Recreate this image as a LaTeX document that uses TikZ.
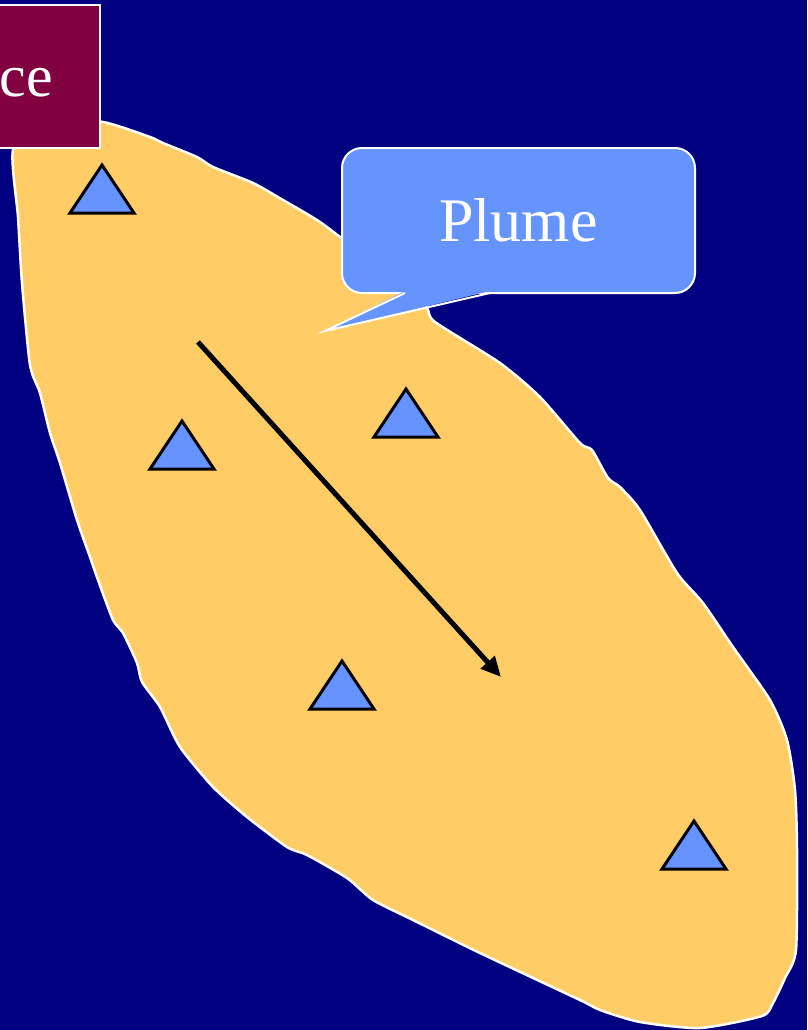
\documentclass[tikz,border=0pt]{standalone}
\usepackage{fontspec}
\setmainfont{Liberation Serif}
\usetikzlibrary{arrows.meta}
\definecolor{bgnavy}{RGB}{0,0,128}
\definecolor{plumefill}{RGB}{255,204,102}
\definecolor{maroonbox}{RGB}{128,0,64}
\definecolor{calloutblue}{RGB}{102,148,255}
\tikzset{
  plumeshape/.style={fill=plumefill, draw=white, line width=2.5pt, line join=round},
  sensor/.style={fill=calloutblue, draw=black, line width=3pt, line join=miter},
  pics/tri/.style={code={\path[sensor] (-32,0) -- (0,-48) -- (32,0) -- cycle;}},
  labelbox/.style={fill=maroonbox, draw=white, line width=2pt, text=white,
    font=\fontsize{60}{60}\selectfont, inner sep=0pt},
  callout/.style={fill=calloutblue, draw=white, line width=2pt, text=white,
    rounded corners=20pt, font=\fontsize{62}{62}\selectfont,
    minimum width=353pt, minimum height=145pt, inner sep=0pt},
  flow/.style={draw=black, line width=5pt, -{Triangle[length=20pt,width=18pt]}}
}
\begin{document}
\begin{tikzpicture}[x=1pt,y=-1pt]
\fill[bgnavy] (0,0) rectangle (807,1030);
\useasboundingbox (0,0) rectangle (807,1030);
\clip (0,0) rectangle (807,1030);
% plume
\path[plumeshape] plot[smooth cycle, tension=0.4] coordinates {
 (13,150) (40,118) (103,122) (150,137) (163,143) (197,157) (213,167) (253,183)
 (283,200) (317,220) (340,237) (380,268) (410,292) (427,308) (435,322)
 (500,363) (540,397) (580,443) (592,450) (608,478) (620,487) (640,510)
 (677,573) (703,603) (733,647) (770,700) (787,740) (795,790) (797,850)
 (796,950) (785,978) (773,1003) (762,1016) (700,1028) (640,1022) (600,1010)
 (580,1000) (480,953) (413,920) (373,900) (347,878) (307,855) (287,847)
 (247,817) (213,787) (180,747) (160,707) (142,682) (137,663) (123,633)
 (113,620) (98,580) (90,557) (77,520) (60,463) (50,433) (40,393) (30,365)
 (22,283) (18,217)
};
% sensors
\pic at (102,213) {tri};
\pic at (182,469) {tri};
\pic at (406,437) {tri};
\pic at (342,709) {tri};
\pic at (694,869) {tri};
% flow arrow
\coordinate (flowstart) at (198,342);
\coordinate (flowend) at (501,677);
\draw[flow] (flowstart) -- (flowend);
% source box
\node[labelbox, minimum height=143pt, inner xsep=47pt, anchor=east] (source) at (101,76.5) {Source};
% callout
\node[callout] (plume) at (518.5,220.5) {Plume};
\coordinate (tip) at (325,331);
\coordinate (pa) at (405,293);
\coordinate (pb) at (490,293);
\fill[calloutblue] ([yshift=2pt]pa) -- (tip) -- ([yshift=2pt]pb) -- cycle;
\draw[white, line width=2pt, line join=miter] (pa) -- (tip) -- (pb);
\end{tikzpicture}
\end{document}
